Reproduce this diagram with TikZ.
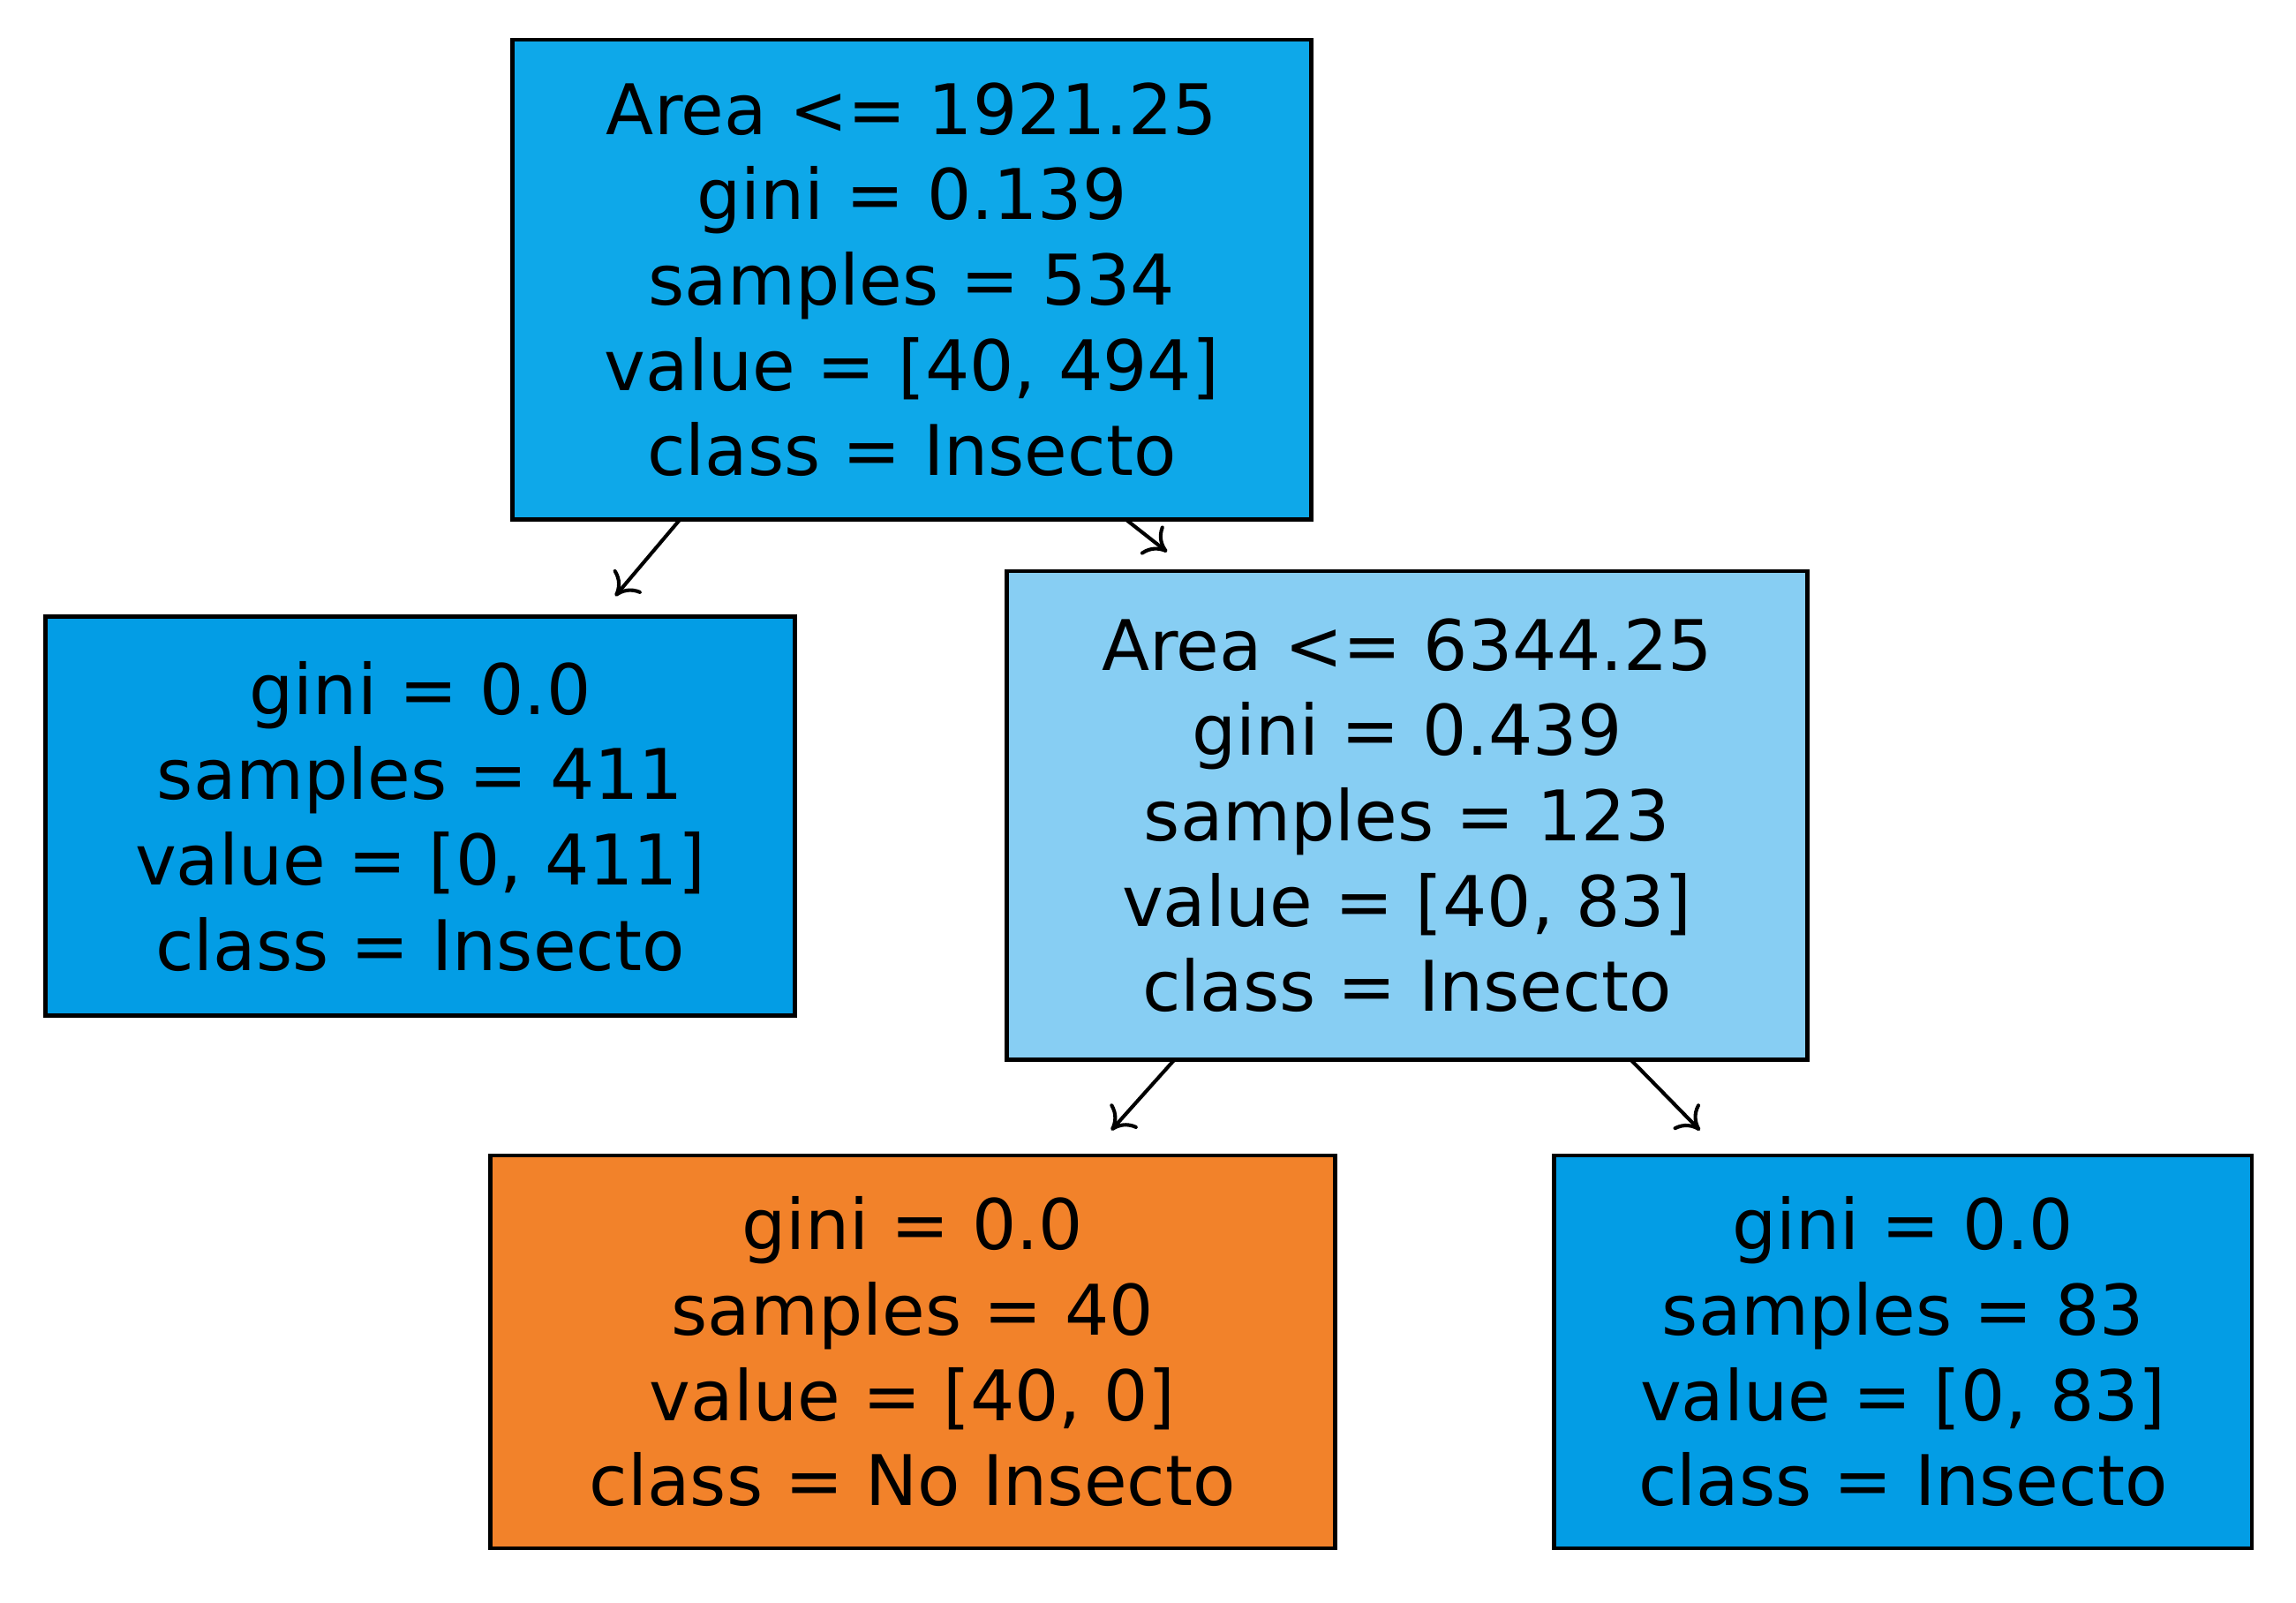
\documentclass[tikz,border=0pt]{standalone}
\usepackage{fontspec}
\setmainfont{DejaVu Sans}
\usetikzlibrary{arrows.meta}
\definecolor{cRoot}{RGB}{14,168,233}
\definecolor{cLeaf}{RGB}{3,157,229}
\definecolor{cMid}{RGB}{135,206,243}
\definecolor{cOr}{RGB}{242,130,42}
\tikzset{
 tbox/.style={draw=black,line width=1.6pt,align=center,inner sep=0pt,
   font=\fontsize{27}{33}\selectfont},
 conn/.style={-{To[length=8pt,width=14pt]},line width=1.4pt}
}
\begin{document}
\begin{tikzpicture}[x=0.02cm,y=-0.02cm]
\useasboundingbox (0,0) rectangle (1560,1089);
\node[tbox,fill=cRoot,minimum width=543*0.02cm,minimum height=326*0.02cm] (root) at (619.5,190)
 {Area <= 1921.25\\gini = 0.139\\samples = 534\\value = [40, 494]\\class = Insecto};
\node[tbox,fill=cLeaf,minimum width=509*0.02cm,minimum height=271*0.02cm] (l) at (285.5,554.5)
 {gini = 0.0\\samples = 411\\value = [0, 411]\\class = Insecto};
\node[tbox,fill=cMid,minimum width=544*0.02cm,minimum height=332*0.02cm] (m) at (956,554)
 {Area <= 6344.25\\gini = 0.439\\samples = 123\\value = [40, 83]\\class = Insecto};
\node[tbox,fill=cOr,minimum width=574*0.02cm,minimum height=267*0.02cm] (bl) at (620,918.5)
 {gini = 0.0\\samples = 40\\value = [40, 0]\\class = No Insecto};
\node[tbox,fill=cLeaf,minimum width=474*0.02cm,minimum height=267*0.02cm] (br) at (1293,918.5)
 {gini = 0.0\\samples = 83\\value = [0, 83]\\class = Insecto};
\coordinate (a1) at (418,405);
\coordinate (a2) at (793,375);
\coordinate (a3) at (755,768);
\coordinate (a4) at (1155,768);
\draw[conn] (462,353) -- (a1);
\draw[conn] (765,353) -- (a2);
\draw[conn] (798,720) -- (a3);
\draw[conn] (1108,720) -- (a4);
\end{tikzpicture}
\end{document}
